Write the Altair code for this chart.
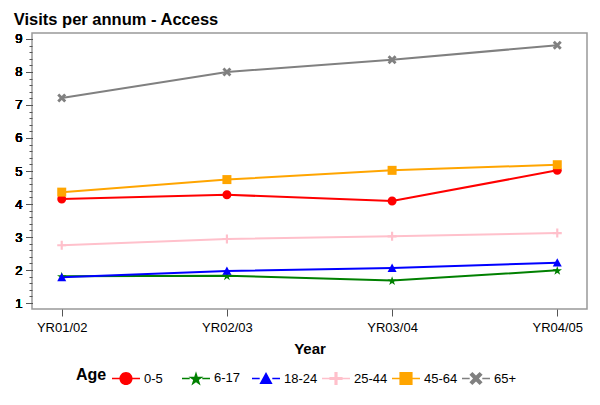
import altair as alt
import pandas as pd

years = ["YR01/02", "YR02/03", "YR03/04", "YR04/05"]
ages = ["0-5", "6-17", "18-24", "25-44", "45-64", "65+"]
v_0_5 = [4.15, 4.28, 4.09, 5.02]
v_6_17 = [1.81, 1.83, 1.68, 1.99]
v_18_24 = [1.78, 1.97, 2.06, 2.22]
v_25_44 = [2.75, 2.94, 3.02, 3.12]
v_45_64 = [4.36, 4.74, 5.02, 5.19]
v_65 = [7.21, 8.00, 8.37, 8.81]
series = [v_0_5, v_6_17, v_18_24, v_25_44, v_45_64, v_65]
colors = ["#FF0000", "#008000", "#0000FF", "#FFC0CB", "#FFA500", "#808080"]
major_ticks = [1, 2, 3, 4, 5, 6, 7, 8, 9]
minor_ticks = [i / 5 for i in range(5, 46) if i % 5]

rows = [
    {"Year": yr, "Age": a, "Visits": v}
    for a, vals in zip(ages, series)
    for yr, v in zip(years, vals)
]
df = pd.DataFrame(rows)

FONT = "Liberation Sans"


def poly(pts, s=1.0):
    return "M" + " L".join(f"{px * s:.3f},{py * s:.3f}" for px, py in pts) + " Z"


def circle(r):
    return f"M{r},0 A{r},{r} 0 1,1 {-r},0 A{r},{r} 0 1,1 {r},0 Z"


star_pts = [(0, -1), (0.223, -0.307), (0.951, -0.309), (0.361, 0.117), (0.588, 0.809),
            (0, 0.38), (-0.588, 0.809), (-0.361, 0.117), (-0.951, -0.309), (-0.223, -0.307)]
star_pts = [(px, py + 0.095) for px, py in star_pts]
tri_pts = [(0, -1), (1, 0.85), (-1, 0.85)]
h = 0.24
plus_pts = [(-h, -1), (h, -1), (h, -h), (1, -h), (1, h), (h, h), (h, 1), (-h, 1),
            (-h, h), (-1, h), (-1, -h), (-h, -h)]
sq_pts = [(-1, -1), (1, -1), (1, 1), (-1, 1)]
d = 0.45
x_pts = [(-1 + d, -1), (0, -d), (1 - d, -1), (1, -1 + d), (d, 0), (1, 1 - d), (1 - d, 1),
         (0, d), (-1 + d, 1), (-1, 1 - d), (-d, 0), (-1, -1 + d)]

plot_shapes = [circle(1), poly(star_pts, 1.1), poly(tri_pts), poly(plus_pts), poly(sq_pts), poly(x_pts)]

ms = 0.47
bt = 0.055
bars = f" M-1,{-bt} L{-ms + 0.02},{-bt} L{-ms + 0.02},{bt} L-1,{bt} Z M{ms - 0.02},{-bt} L1,{-bt} L1,{bt} L{ms - 0.02},{bt} Z"
legend_shapes = [circle(ms) + bars, poly(star_pts, 0.56) + bars, poly(tri_pts, ms) + bars,
                 poly(plus_pts, ms) + bars, poly(sq_pts, ms) + bars, poly(x_pts, ms) + bars]

x_enc = alt.X(
    "Year:N", sort=years,
    scale=alt.Scale(type="point", padding=0.18),
    axis=alt.Axis(title="Year", labelAngle=0, tickSize=7, labelPadding=5,
                  titlePadding=7, domain=False),
)
y_scale = alt.Scale(domain=[0.82, 9.18], nice=False, zero=False)
y_enc = alt.Y(
    "Visits:Q", scale=y_scale,
    axis=alt.Axis(title=None, values=major_ticks, tickSize=6, labelPadding=4,
                  domain=False, grid=False, orient="left"),
)
color_scale = alt.Scale(domain=ages, range=colors)
color_plain = alt.Color("Age:N", sort=ages, scale=color_scale)

leg = dict(
    title="Age", orient="none", legendX=44, legendY=331, direction="horizontal",
    titleOrient="left", titleFontSize=16, titleFontWeight="bold", titleFont=FONT,
    titleColor="#000000", titlePadding=5, labelFont=FONT, labelFontSize=13,
    labelColor="#000000", labelOffset=4, columnPadding=4, gridAlign="all",
    symbolSize=784, symbolStrokeWidth=0, symbolOpacity=1,
)
legend_layer = alt.Chart(df).mark_point(filled=True, opacity=0).encode(
    x=x_enc, y=y_enc,
    color=alt.Color("Age:N", sort=ages, scale=color_scale, legend=alt.Legend(**leg)),
    shape=alt.Shape("Age:N", sort=ages, scale=alt.Scale(domain=ages, range=legend_shapes),
                    legend=alt.Legend(**leg)),
)

lines = alt.Chart(df).mark_line(strokeWidth=2).encode(x=x_enc, y=y_enc, color=color_plain)

point_layers = []
for a, shp in zip(ages, plot_shapes):
    point_layers.append(
        alt.Chart(df).transform_filter(alt.datum.Age == a)
        .mark_point(filled=True, shape=shp, size=81, opacity=1)
        .encode(x=x_enc, y=y_enc, color=color_plain)
    )

minor_df = pd.DataFrame({"t": minor_ticks})
minor_layer = alt.Chart(minor_df).mark_point(opacity=0).encode(
    y=alt.Y("t:Q", scale=y_scale,
            axis=alt.Axis(title=None, values=minor_ticks, tickSize=3, labels=False,
                          domain=False, grid=False, orient="left"))
)

chart = alt.layer(legend_layer, lines, *point_layers, minor_layer).resolve_axis(
    y="independent"
).properties(
    width=555, height=276,
    title=alt.TitleParams("Visits per annum - Access", anchor="start", fontSize=16.5,
                          fontWeight="bold", font=FONT, color="#000000", dx=-1,
                          offset=-12, baseline="bottom"),
    autosize=alt.AutoSizeParams(type="none"),
    padding={"left": 24, "top": 25, "right": 5, "bottom": 85},
).configure_view(
    stroke="#999999", strokeWidth=1.5
).configure_axis(
    labelFont=FONT, labelFontSize=13, labelColor="#000000", tickColor="#555555",
    titleFont=FONT, titleFontSize=15, titleColor="#000000", titleFontWeight="bold",
    grid=False,
)

chart.save("out.html", embed_options={"renderer": "svg", "actions": False})
